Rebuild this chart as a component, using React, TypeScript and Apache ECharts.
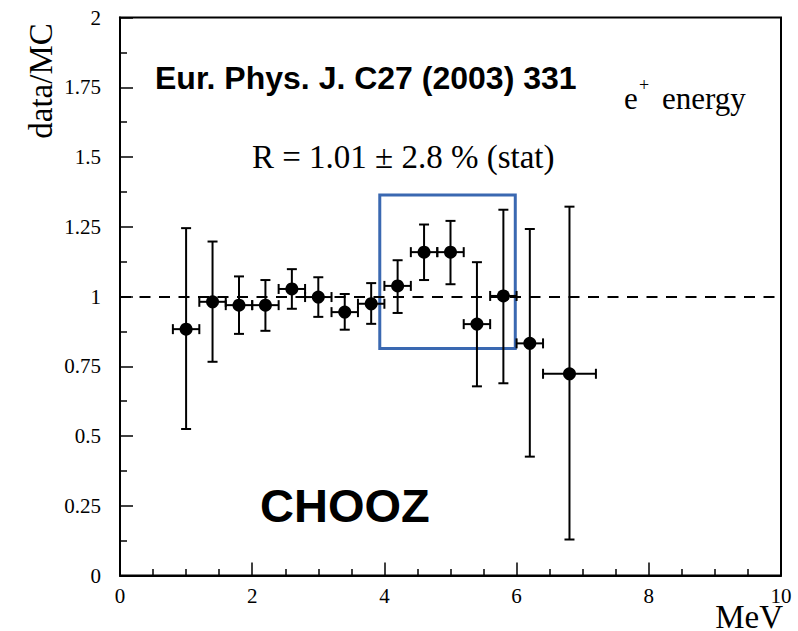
import React, { useEffect, useRef } from "react";
import * as echarts from "echarts";

// ---- data ----
const energyMeV = [1.0, 1.4, 1.8, 2.2, 2.6, 3.0, 3.4, 3.8, 4.2, 4.6, 5.0, 5.4, 5.8, 6.2, 6.8];
const binHalfWidth = [0.2, 0.2, 0.2, 0.2, 0.2, 0.2, 0.2, 0.2, 0.2, 0.2, 0.2, 0.2, 0.2, 0.2, 0.4];
const ratio = [0.883, 0.981, 0.969, 0.969, 1.027, 0.998, 0.944, 0.974, 1.038, 1.159, 1.159, 0.901, 1.002, 0.832, 0.723];
const ratioHigh = [1.245, 1.197, 1.072, 1.059, 1.098, 1.069, 1.009, 1.048, 1.13, 1.258, 1.271, 1.123, 1.311, 1.242, 1.322];
const ratioLow = [0.525, 0.766, 0.866, 0.877, 0.956, 0.927, 0.881, 0.902, 0.941, 1.059, 1.044, 0.678, 0.689, 0.426, 0.129];
const referenceLevel = 1;
const highlightX = [3.93, 5.98];
const highlightY = [0.814, 1.364];
const xTicks = { min: 0, max: 10, interval: 2 };
const yTicks = { min: 0, max: 2, interval: 0.25 };

const SERIF = "Liberation Serif";
const SANS = "Liberation Sans";

export default function App() {
  const ref = useRef<HTMLDivElement>(null);

  useEffect(() => {
    if (!ref.current) return;
    const chart = echarts.init(ref.current, null, { renderer: "svg" });

    const points = energyMeV.map((x, i) => [x, ratio[i]]);
    const errRows = energyMeV.map((x, i) => [x, ratio[i], ratioLow[i], ratioHigh[i], binHalfWidth[i]]);

    const option: any = {
      animation: false,
      backgroundColor: "#fff",
      textStyle: { fontFamily: SERIF },
      grid: {
        left: 120,
        right: 17,
        top: 17.5,
        bottom: 55.5,
        show: true,
        borderColor: "#000",
        borderWidth: 2,
        backgroundColor: "transparent",
      },
      xAxis: {
        type: "value",
        min: xTicks.min,
        max: xTicks.max,
        interval: xTicks.interval,
        splitLine: { show: false },
        axisLine: { show: true, lineStyle: { color: "#000", width: 2 } },
        axisTick: { show: true, inside: true, length: 13, lineStyle: { color: "#000", width: 1.5 } },
        minorTick: { show: true, splitNumber: 4, length: 6.5, lineStyle: { color: "#000", width: 1.5 } },
        axisLabel: { color: "#000", fontFamily: SERIF, fontSize: 21, margin: 10 },
      },
      yAxis: {
        type: "value",
        min: yTicks.min,
        max: yTicks.max,
        interval: yTicks.interval,
        splitLine: { show: false },
        axisLine: { show: true, lineStyle: { color: "#000", width: 2 } },
        axisTick: { show: true, inside: true, length: 13, lineStyle: { color: "#000", width: 1.5 } },
        minorTick: { show: true, splitNumber: 2, length: 7, lineStyle: { color: "#000", width: 1.5 } },
        axisLabel: { color: "#000", fontFamily: SERIF, fontSize: 21, margin: 19 },
      },
      series: [
        {
          type: "custom",
          data: errRows,
          z: 3,
          renderItem: (_p: any, api: any) => {
            const x = api.value(0);
            const y = api.value(1);
            const lo = api.value(2);
            const hi = api.value(3);
            const xe = api.value(4);
            const pLo = api.coord([x, lo]);
            const pHi = api.coord([x, hi]);
            const pL = api.coord([x - xe, y]);
            const pR = api.coord([x + xe, y]);
            const c = 5;
            const style = { stroke: "#000", lineWidth: 2, fill: null };
            const ln = (x1: number, y1: number, x2: number, y2: number) => ({
              type: "line",
              shape: { x1, y1, x2, y2 },
              style,
            });
            return {
              type: "group",
              children: [
                ln(pLo[0], pLo[1], pHi[0], pHi[1]),
                ln(pLo[0] - c, pLo[1], pLo[0] + c, pLo[1]),
                ln(pHi[0] - c, pHi[1], pHi[0] + c, pHi[1]),
                ln(pL[0], pL[1], pR[0], pR[1]),
                ln(pL[0], pL[1] - c, pL[0], pL[1] + c),
                ln(pR[0], pR[1] - c, pR[0], pR[1] + c),
              ],
            };
          },
        },
        {
          type: "scatter",
          data: points,
          symbol: "circle",
          symbolSize: 13,
          itemStyle: { color: "#000", opacity: 1 },
          z: 4,
          markLine: {
            silent: true,
            symbol: "none",
            label: { show: false },
            lineStyle: { color: "#000", width: 2, type: [11, 8.5], opacity: 1 },
            data: [{ yAxis: referenceLevel }],
          },
        },
        {
          type: "scatter",
          data: [],
          z: 6,
          markArea: {
            silent: true,
            itemStyle: { color: "rgba(0,0,0,0)", borderColor: "#3a68b1", borderWidth: 3, opacity: 1 },
            data: [[{ coord: [highlightX[0], highlightY[1]] }, { coord: [highlightX[1], highlightY[0]] }]],
          },
        },
      ],
      graphic: {
        elements: [
          {
            type: "text",
            x: 155,
            y: 78,
            style: { text: "Eur. Phys. J. C27 (2003) 331", font: `bold 32px ${SANS}`, fill: "#000", verticalAlign: "middle" },
          },
          {
            type: "text",
            x: 252,
            y: 157,
            style: { text: "R = 1.01 \u00b1 2.8 % (stat)", font: `33px ${SERIF}`, fill: "#000", verticalAlign: "middle" },
          },
          {
            type: "text",
            x: 624,
            y: 98,
            style: { text: "e", font: `31px ${SERIF}`, fill: "#000", verticalAlign: "middle" },
          },
          {
            type: "text",
            x: 639,
            y: 85,
            style: { text: "+", font: `18px ${SERIF}`, fill: "#000", verticalAlign: "middle" },
          },
          {
            type: "text",
            x: 662,
            y: 98,
            style: { text: "energy", font: `31px ${SERIF}`, fill: "#000", verticalAlign: "middle" },
          },
          {
            type: "text",
            x: 260,
            y: 505,
            style: { text: "CHOOZ", font: `bold 47px ${SANS}`, fill: "#000", verticalAlign: "middle" },
          },
          {
            type: "text",
            x: 40.5,
            y: 81,
            rotation: Math.PI / 2,
            style: { text: "data/MC", font: `33px ${SERIF}`, fill: "#000", align: "center", verticalAlign: "middle" },
          },
          {
            type: "text",
            x: 783,
            y: 617,
            style: { text: "MeV", font: `33px ${SERIF}`, fill: "#000", align: "right", verticalAlign: "middle", lineHeight: 18 },
          },
        ],
      },
    };

    chart.setOption(option);
    return () => chart.dispose();
  }, []);

  return (
    <div
      ref={ref}
      style={{ position: "fixed", left: 0, top: 0, width: 798, height: 631, background: "#fff" }}
    />
  );
}
